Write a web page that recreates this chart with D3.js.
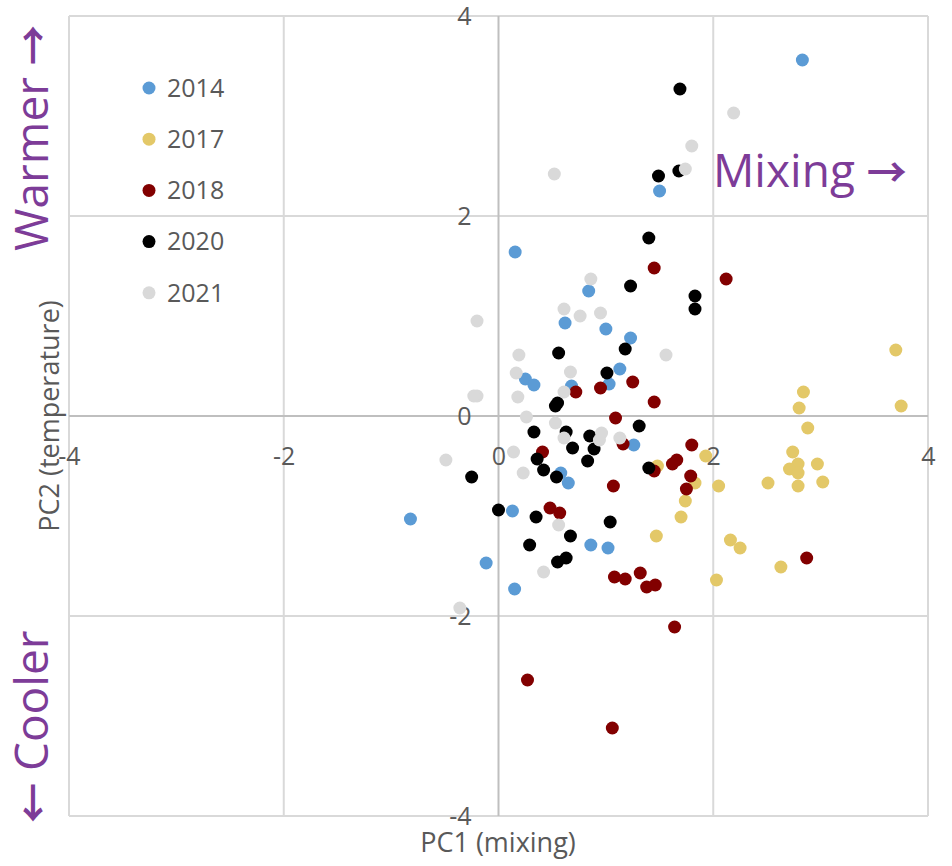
<!DOCTYPE html>
<html>
<head>
<meta charset="utf-8">
<script src="https://cdn.jsdelivr.net/npm/d3@7"></script>
<style>
  html, body { margin: 0; padding: 0; background: #fff; }
  svg { display: block; font-family: "Open Sans", "DejaVu Sans", sans-serif; }
</style>
</head>
<body>
<svg id="chart" width="952" height="866"></svg>
<script>
// PCA scores per survey year: [PC1 (mixing), PC2 (temperature)]
const years = ["2014", "2017", "2018", "2020", "2021"];
const colors = ["#5b9bd5", "#e3c868", "#820000", "#000000", "#d9d9d9"];

const pts2014 = [
  [2.83, 3.56], [1.50, 2.25], [0.155, 1.64], [0.84, 1.25], [0.62, 0.93],
  [1.00, 0.87], [1.23, 0.78], [1.13, 0.47], [0.25, 0.37], [0.33, 0.31],
  [0.68, 0.30], [1.03, 0.32], [1.26, -0.29], [0.58, -0.57], [0.65, -0.67],
  [-0.82, -1.03], [0.13, -0.95], [-0.115, -1.47], [0.15, -1.73], [0.86, -1.29],
  [1.02, -1.32]
];
const pts2017 = [
  [3.70, 0.66], [2.84, 0.24], [2.80, 0.08], [3.75, 0.10], [2.88, -0.12],
  [2.74, -0.36], [2.79, -0.48], [2.71, -0.53], [2.79, -0.57], [2.97, -0.48],
  [3.02, -0.66], [2.79, -0.70], [2.51, -0.67], [2.05, -0.70], [1.93, -0.40],
  [1.48, -0.50], [1.83, -0.67], [1.74, -0.85], [1.70, -1.01], [1.47, -1.20],
  [2.16, -1.24], [2.25, -1.32], [2.63, -1.51], [2.03, -1.64]
];
const pts2018 = [
  [1.45, 1.48], [2.12, 1.37], [0.72, 0.24], [0.95, 0.28], [1.25, 0.34],
  [1.45, 0.14], [1.09, -0.02], [1.16, -0.28], [1.80, -0.29], [0.41, -0.36],
  [1.66, -0.44], [1.62, -0.48], [1.45, -0.55], [1.79, -0.60], [1.75, -0.73],
  [1.07, -0.70], [0.48, -0.92], [0.57, -0.97], [1.08, -1.61], [1.18, -1.63],
  [1.32, -1.57], [1.38, -1.71], [1.46, -1.69], [1.64, -2.11], [2.87, -1.42],
  [0.27, -2.64], [1.06, -3.12]
];
const pts2020 = [
  [1.69, 3.27], [1.49, 2.40], [1.68, 2.45], [1.40, 1.78], [1.23, 1.30],
  [1.83, 1.20], [1.83, 1.07], [1.18, 0.67], [0.56, 0.63], [1.01, 0.43],
  [0.55, 0.13], [0.53, 0.10], [1.31, -0.10], [0.33, -0.16], [0.63, -0.16],
  [0.85, -0.20], [0.69, -0.32], [0.89, -0.33], [0.36, -0.43], [0.83, -0.45],
  [1.40, -0.52], [-0.25, -0.61], [0.42, -0.54], [0.54, -0.61], [0.00, -0.94],
  [0.35, -1.01], [1.04, -1.06], [0.67, -1.20], [0.29, -1.29], [0.63, -1.42],
  [0.55, -1.46]
];
const pts2021 = [
  [2.19, 3.03], [1.80, 2.70], [1.74, 2.47], [0.52, 2.42], [0.86, 1.37],
  [-0.20, 0.95], [0.61, 1.07], [0.76, 1.00], [0.95, 1.03], [1.56, 0.61],
  [0.19, 0.61], [0.165, 0.43], [0.67, 0.44], [-0.20, 0.20], [-0.23, 0.20],
  [0.18, 0.19], [0.61, 0.24], [0.26, -0.01], [0.53, -0.07], [0.61, -0.22],
  [0.96, -0.17], [0.94, -0.24], [1.13, -0.22], [0.14, -0.36], [-0.49, -0.44],
  [0.23, -0.57], [0.56, -1.09], [0.42, -1.56], [-0.36, -1.92]
];
const seriesPoints = [pts2014, pts2017, pts2018, pts2020, pts2021];
const tickValues = [-4, -2, 0, 2, 4];

const svg = d3.select("#chart");
const plotLeft = 69, plotRight = 928, plotTop = 16, plotBottom = 816;

const x = d3.scaleLinear().domain([-4, 4]).range([plotLeft, plotRight]);
const y = d3.scaleLinear().domain([-4, 4]).range([plotBottom, plotTop]);

// Gridlines (including the plot border at ±4)
const grid = svg.append("g");
grid.selectAll("line.v").data(tickValues.filter(d => d !== 0)).join("line")
  .attr("class", "v")
  .attr("x1", d => x(d)).attr("x2", d => x(d))
  .attr("y1", plotTop).attr("y2", plotBottom)
  .attr("stroke", "#d9d9d9").attr("stroke-width", 2);
grid.selectAll("line.h").data(tickValues.filter(d => d !== 0)).join("line")
  .attr("class", "h")
  .attr("x1", plotLeft).attr("x2", plotRight)
  .attr("y1", d => y(d)).attr("y2", d => y(d))
  .attr("stroke", "#d9d9d9").attr("stroke-width", 2);

// Axes crossing at the origin; plain hyphen for negatives
const fmt = d => String(d);
const xAxis = d3.axisBottom(x).tickValues(tickValues).tickFormat(fmt).tickSize(0).tickPadding(31);
const yAxis = d3.axisLeft(y).tickValues(tickValues).tickFormat(fmt).tickSize(0).tickPadding(27);

svg.append("line")
  .attr("x1", plotLeft).attr("x2", plotRight).attr("y1", y(0)).attr("y2", y(0))
  .attr("stroke", "#bfbfbf").attr("stroke-width", 2);
svg.append("line")
  .attr("x1", x(0)).attr("x2", x(0)).attr("y1", plotTop).attr("y2", plotBottom)
  .attr("stroke", "#bfbfbf").attr("stroke-width", 2);

const gx = svg.append("g").attr("transform", `translate(0,${y(0)})`).call(xAxis);
const gy = svg.append("g").attr("transform", `translate(${x(0)},0)`).call(yAxis);
[gx, gy].forEach(g => {
  g.select(".domain").remove();
  g.selectAll("text").attr("fill", "#595959")
    .style("font-size", "25px").style("font-family", "'Open Sans', sans-serif");
});

// Points, later years drawn on top
seriesPoints.forEach((pts, i) => {
  svg.append("g").selectAll("circle").data(pts).join("circle")
    .attr("cx", d => x(d[0])).attr("cy", d => y(d[1]))
    .attr("r", 6.5).attr("fill", colors[i]);
});

// Legend
const legend = svg.append("g");
years.forEach((yr, i) => {
  const ly = 88 + i * 51.2;
  legend.append("circle").attr("cx", 149).attr("cy", ly).attr("r", 6.5).attr("fill", colors[i]);
  legend.append("text").attr("x", 167).attr("y", ly).attr("dy", "0.35em")
    .attr("fill", "#595959").style("font-size", "25px").text(yr);
});

// Axis titles
svg.append("text").attr("x", 498).attr("y", 852).attr("text-anchor", "middle")
  .attr("fill", "#595959").style("font-size", "27px").text("PC1 (mixing)");
svg.append("text").attr("transform", "translate(59,416) rotate(-90)")
  .attr("text-anchor", "middle").attr("fill", "#595959")
  .style("font-size", "27px").text("PC2 (temperature)");

// Direction annotations: word plus a heavier arrow glyph
const purple = "#7d3c98";
function arrowLabel(transform, parts) {
  const t = svg.append("text").attr("transform", transform)
    .attr("fill", purple).style("font-size", "46px");
  parts.forEach(p => {
    const s = t.append("tspan").text(p.text);
    if (p.arrow) {
      s.style("font-family", "'Noto Sans CJK SC', 'DejaVu Sans', sans-serif")
       .style("font-size", "40px").style("font-weight", "700");
    }
  });
  return t;
}
arrowLabel("translate(48,251) rotate(-90)", [{ text: "Warmer " }, { text: "\u2192", arrow: true }]);
arrowLabel("translate(48,823) rotate(-90)", [{ text: "\u2190", arrow: true }, { text: " Cooler" }]);
arrowLabel("translate(713,187)", [{ text: "Mixing " }, { text: "\u2192", arrow: true }]);
</script>
</body>
</html>
